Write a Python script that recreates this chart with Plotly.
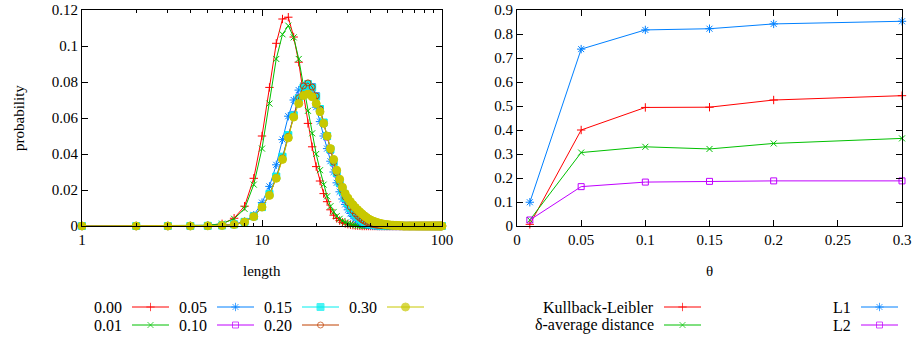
import plotly.graph_objects as go

# ---------------- data: left panel ----------------
lengths = [1, 2, 3, 4, 5, 6, 7, 8, 9, 10, 11, 12, 13, 14, 15, 16, 17, 18, 19, 20,
           21, 22, 23, 24, 25, 26, 27, 28, 29, 30, 31, 32, 33, 34, 35, 36, 37, 38, 39, 40,
           41, 42, 43, 44, 45, 46, 47, 48, 49, 50, 51, 52, 53, 54, 55, 56, 57, 58, 59, 60,
           61, 62, 63, 64, 65, 66, 67, 68, 69, 70, 71, 72, 73, 74, 75, 76, 77, 78, 79, 80,
           81, 82, 83, 84, 85, 86, 87, 88, 89, 90, 91, 92, 93, 94, 95, 96, 97, 98, 99, 100]

p_000 = [0, 0, 0, 0.0001, 0.0003, 0.0012, 0.0043, 0.011, 0.0265, 0.050,
         0.077, 0.1015, 0.115, 0.116, 0.105, 0.091, 0.073, 0.057, 0.044, 0.033,
         0.025, 0.018, 0.0135, 0.009, 0.006, 0.0042, 0.003, 0.002, 0.0014, 0.001,
         0.0007, 0.0005, 0.0003, 0.0002, 0.0001, 0, 0, 0, 0, 0,
         0, 0, 0, 0, 0, 0, 0, 0, 0, 0, 0, 0, 0, 0, 0, 0, 0, 0, 0, 0,
         0, 0, 0, 0, 0, 0, 0, 0, 0, 0, 0, 0, 0, 0, 0, 0, 0, 0, 0, 0,
         0, 0, 0, 0, 0, 0, 0, 0, 0, 0, 0, 0, 0, 0, 0, 0, 0, 0, 0, 0]

p_001 = [0, 0, 0, 0.0001, 0.0004, 0.0013, 0.004, 0.0095, 0.023, 0.043,
         0.068, 0.0928, 0.1065, 0.1113, 0.1048, 0.0928, 0.078, 0.064, 0.0515, 0.040,
         0.031, 0.023, 0.0165, 0.011, 0.0078, 0.0055, 0.004, 0.0028, 0.002, 0.0014,
         0.001, 0.0007, 0.0005, 0.0003, 0.0002, 0.0001, 0, 0, 0, 0,
         0, 0, 0, 0, 0, 0, 0, 0, 0, 0, 0, 0, 0, 0, 0, 0, 0, 0, 0, 0,
         0, 0, 0, 0, 0, 0, 0, 0, 0, 0, 0, 0, 0, 0, 0, 0, 0, 0, 0, 0,
         0, 0, 0, 0, 0, 0, 0, 0, 0, 0, 0, 0, 0, 0, 0, 0, 0, 0, 0, 0]

p_005 = [0, 0, 0, 0, 0.0001, 0.0004, 0.001, 0.0025, 0.006, 0.013,
         0.022, 0.034, 0.048, 0.061, 0.070, 0.0755, 0.0775, 0.077, 0.073, 0.066,
         0.058, 0.050, 0.043, 0.036, 0.030, 0.024, 0.019, 0.015, 0.012, 0.009,
         0.007, 0.0053, 0.004, 0.003, 0.0022, 0.0016, 0.0012, 0.0008, 0.0006, 0.0004,
         0.0003, 0.0002, 0.0001, 0, 0, 0, 0, 0, 0, 0,
         0, 0, 0, 0, 0, 0, 0, 0, 0, 0,
         0, 0, 0, 0, 0, 0, 0, 0, 0, 0, 0, 0, 0, 0, 0, 0, 0, 0, 0, 0,
         0, 0, 0, 0, 0, 0, 0, 0, 0, 0, 0, 0, 0, 0, 0, 0, 0, 0, 0, 0]

p_010 = [0, 0, 0, 0, 0.0001, 0.0003, 0.0009, 0.0024, 0.0055, 0.0105,
         0.0175, 0.027, 0.038, 0.050, 0.062, 0.0715, 0.0775, 0.079, 0.0775, 0.0725,
         0.065, 0.057, 0.0495, 0.042, 0.035, 0.029, 0.0235, 0.019, 0.015, 0.012,
         0.0095, 0.0075, 0.0058, 0.0045, 0.0035, 0.0027, 0.002, 0.0015, 0.0011, 0.0008,
         0.0006, 0.0004, 0.0003, 0.0002, 0.0001, 0, 0, 0, 0, 0,
         0, 0, 0, 0, 0, 0, 0, 0, 0, 0,
         0, 0, 0, 0, 0, 0, 0, 0, 0, 0, 0, 0, 0, 0, 0, 0, 0, 0, 0, 0,
         0, 0, 0, 0, 0, 0, 0, 0, 0, 0, 0, 0, 0, 0, 0, 0, 0, 0, 0, 0]

p_015 = [0, 0, 0, 0, 0.0001, 0.0003, 0.0009, 0.0023, 0.0054, 0.0105,
         0.0178, 0.0275, 0.0385, 0.0505, 0.0615, 0.071, 0.077, 0.0788, 0.077, 0.072,
         0.065, 0.0575, 0.050, 0.0425, 0.0355, 0.0295, 0.024, 0.0195, 0.0155, 0.0125,
         0.010, 0.008, 0.0063, 0.005, 0.0039, 0.003, 0.0023, 0.0018, 0.0014, 0.0011,
         0.0009, 0.0007, 0.0005, 0.0004, 0.0003, 0.0002, 0.0002, 0.0001, 0.0001, 0,
         0, 0, 0, 0, 0, 0, 0, 0, 0, 0,
         0, 0, 0, 0, 0, 0, 0, 0, 0, 0, 0, 0, 0, 0, 0, 0, 0, 0, 0, 0,
         0, 0, 0, 0, 0, 0, 0, 0, 0, 0, 0, 0, 0, 0, 0, 0, 0, 0, 0, 0]

p_020 = [0, 0, 0, 0, 0.0001, 0.0003, 0.0008, 0.0023, 0.0053, 0.0103,
         0.0173, 0.0268, 0.0378, 0.0498, 0.061, 0.0712, 0.0778, 0.0795, 0.0772, 0.0722,
         0.065, 0.0572, 0.0495, 0.0422, 0.0355, 0.0295, 0.0242, 0.0198, 0.016, 0.013,
         0.0105, 0.0085, 0.0068, 0.0054, 0.0043, 0.0034, 0.0027, 0.0021, 0.0016, 0.0012,
         0.0009, 0.0007, 0.0005, 0.0004, 0.0003, 0.0002, 0.0001, 0.0001, 0, 0,
         0, 0, 0, 0, 0, 0, 0, 0, 0, 0,
         0, 0, 0, 0, 0, 0, 0, 0, 0, 0, 0, 0, 0, 0, 0, 0, 0, 0, 0, 0,
         0, 0, 0, 0, 0, 0, 0, 0, 0, 0, 0, 0, 0, 0, 0, 0, 0, 0, 0, 0]

p_030 = [0, 0, 0, 0, 0.0001, 0.0003, 0.0008, 0.0022, 0.0052, 0.0105,
         0.017, 0.0265, 0.037, 0.049, 0.0605, 0.068, 0.0725, 0.0733, 0.0718, 0.068,
         0.0635, 0.057, 0.050, 0.043, 0.037, 0.031, 0.026, 0.0215, 0.018, 0.0155,
         0.0135, 0.0118, 0.0103, 0.009, 0.0078, 0.0067, 0.0057, 0.0048, 0.004, 0.0034,
         0.0029, 0.0025, 0.0021, 0.0018, 0.0015, 0.0013, 0.0011, 0.0009, 0.0008, 0.0007,
         0.0006, 0.0005, 0.0004, 0.0004, 0.0003, 0.0003, 0.0002, 0.0002, 0.0001, 0.0001,
         0, 0, 0, 0, 0, 0, 0, 0, 0, 0, 0, 0, 0, 0, 0, 0, 0, 0, 0, 0,
         0, 0, 0, 0, 0, 0, 0, 0, 0, 0, 0, 0, 0, 0, 0, 0, 0, 0, 0, 0]

left_names = ["0.00", "0.01", "0.05", "0.10", "0.15", "0.20", "0.30"]
left_values = [p_000, p_001, p_005, p_010, p_015, p_020, p_030]

left_xtick_vals = [1, 10, 100]
left_xtick_text = ["1", "10", "100"]
left_xminor_vals = [2, 3, 4, 5, 6, 7, 8, 9, 20, 30, 40, 50, 60, 70, 80, 90]
left_ytick_vals = [0, 0.02, 0.04, 0.06, 0.08, 0.1, 0.12]
left_ytick_text = ["0", "0.02", "0.04", "0.06", "0.08", "0.1", "0.12"]

# ---------------- data: right panel ----------------
theta = [0.01, 0.05, 0.1, 0.15, 0.2, 0.3]
kullback_leibler = [0.007, 0.400, 0.494, 0.495, 0.525, 0.543]
delta_average = [0.025, 0.306, 0.330, 0.321, 0.344, 0.365]
l1_dist = [0.099, 0.737, 0.817, 0.822, 0.842, 0.853]
l2_dist = [0.025, 0.164, 0.183, 0.186, 0.188, 0.188]

right_names = ["Kullback-Leibler", "δ-average distance", "L1", "L2"]
right_values = [kullback_leibler, delta_average, l1_dist, l2_dist]

right_xtick_vals = [0, 0.05, 0.1, 0.15, 0.2, 0.25, 0.3]
right_xtick_text = ["0", "0.05", "0.1", "0.15", "0.2", "0.25", "0.3"]
right_ytick_vals = [0, 0.1, 0.2, 0.3, 0.4, 0.5, 0.6, 0.7, 0.8, 0.9]
right_ytick_text = ["0", "0.1", "0.2", "0.3", "0.4", "0.5", "0.6", "0.7", "0.8", "0.9"]

# ---------------- styles ----------------
W, H = 915, 339
FONT = "Liberation Serif"
colors = ["#ff0000", "#00c000", "#0080ff", "#c000ff", "#00eeee", "#c04000", "#c8c800"]
symbols = ["cross-thin-open", "x-thin-open", "asterisk-open", "square-open",
           "square", "circle-open", "circle"]
sizes = [6, 6, 7, 6, 7, 6, 8]

def marker(i):
    return dict(symbol=symbols[i], size=sizes[i], color=colors[i],
                line=dict(color=colors[i], width=1))

fig = go.Figure()

for i, (name, vals) in enumerate(zip(left_names, left_values)):
    fig.add_trace(go.Scatter(x=lengths, y=vals, mode="lines+markers", name=name,
                             line=dict(color=colors[i], width=1), marker=marker(i),
                             cliponaxis=False, xaxis="x", yaxis="y", showlegend=False))

for i, (name, vals) in enumerate(zip(right_names, right_values)):
    fig.add_trace(go.Scatter(x=theta, y=vals, mode="lines+markers", name=name,
                             line=dict(color=colors[i], width=1), marker=marker(i),
                             cliponaxis=False, xaxis="x2", yaxis="y2", showlegend=False))

# ---------------- gnuplot-style key (text, then sample) ----------------
KEY_TOP = 279  # pixel row where the key strip starts
annotations = []

def key_entry(i, label, x_right, y_px):
    fig.add_trace(go.Scatter(x=[x_right + 8, x_right + 26.5, x_right + 45],
                             y=[y_px, y_px, y_px], mode="lines+markers",
                             line=dict(color=colors[i], width=1),
                             marker=dict(symbol=symbols[i], size=[0, sizes[i], 0],
                                         color=colors[i], line=dict(color=colors[i], width=1)),
                             cliponaxis=False,
                             xaxis="x3", yaxis="y3", showlegend=False, hoverinfo="skip"))
    annotations.append(dict(text=label, x=x_right / W, y=1 - y_px / H, xref="paper",
                            yref="paper", xanchor="right", yanchor="middle",
                            showarrow=False, font=dict(family=FONT, size=16, color="black")))

for i, name in enumerate(left_names):
    key_entry(i, name, 124 + 85 * (i // 2), 307 + 18 * (i % 2))
right_cols = [656, 853]
for i, name in enumerate(right_names):
    key_entry(i, name, right_cols[i // 2], 307 + 18 * (i % 2))

# axis titles
annotations.append(dict(text="probability", x=19 / W, y=1 - 118 / H, xref="paper", yref="paper",
                        textangle=-90, showarrow=False, xanchor="center", yanchor="middle",
                        font=dict(family=FONT, size=15, color="black")))
annotations.append(dict(text="length", x=262 / W, y=1 - 271 / H, xref="paper", yref="paper",
                        showarrow=False, xanchor="center", yanchor="middle",
                        font=dict(family=FONT, size=15, color="black")))
annotations.append(dict(text="θ", x=709 / W, y=1 - 271 / H, xref="paper", yref="paper",
                        showarrow=False, xanchor="center", yanchor="middle",
                        font=dict(family=FONT, size=15, color="black")))

axis_common = dict(showline=True, linecolor="black", linewidth=1, mirror="allticks",
                   ticks="inside", ticklen=6, tickcolor="black", tickwidth=1,
                   showgrid=False, zeroline=False, automargin=False,
                   tickfont=dict(family=FONT, size=15, color="black"))

y_dom = [113 / H, 329 / H]

fig.update_layout(
    template="none",
    width=W, height=H,
    margin=dict(l=0, r=0, t=0, b=0, pad=0, autoexpand=False),
    paper_bgcolor="white", plot_bgcolor="rgba(0,0,0,0)",
    font=dict(family=FONT, size=15, color="black"),
    xaxis=dict(type="log", range=[0, 2], domain=[82 / W, 442 / W], anchor="y",
               tickmode="array", tickvals=left_xtick_vals, ticktext=left_xtick_text,
               minor=dict(tickmode="array", tickvals=left_xminor_vals, ticks="inside",
                          ticklen=3, tickcolor="black", showgrid=False),
               **axis_common),
    yaxis=dict(range=[0, 0.12], domain=y_dom, anchor="x",
               tickmode="array", tickvals=left_ytick_vals, ticktext=left_ytick_text,
               **axis_common),
    xaxis2=dict(range=[0, 0.3], domain=[517 / W, 902 / W], anchor="y2",
                tickmode="array", tickvals=right_xtick_vals, ticktext=right_xtick_text,
                **axis_common),
    yaxis2=dict(range=[0, 0.9], domain=y_dom, anchor="x2",
                tickmode="array", tickvals=right_ytick_vals, ticktext=right_ytick_text,
                **axis_common),
    xaxis3=dict(range=[0, W], domain=[0, 1], visible=False, anchor="y3",
                fixedrange=True, automargin=False),
    yaxis3=dict(range=[H, KEY_TOP], domain=[0, (H - KEY_TOP) / H], visible=False,
                anchor="x3", fixedrange=True, automargin=False),
    annotations=annotations,
    showlegend=False,
    hovermode=False,
)

# the page's default 8px body margin would offset the figure; remove it
fig.write_html("out.html",
               config={"displayModeBar": False, "staticPlot": True},
               post_script="document.body.style.margin='0px';document.body.style.overflow='hidden';")
